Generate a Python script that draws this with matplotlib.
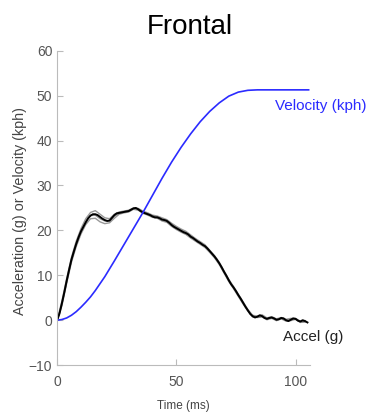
import numpy as np
import matplotlib
matplotlib.use("Agg")
import matplotlib.pyplot as plt

plt.rcParams['font.family'] = ['Liberation Sans', 'DejaVu Sans']

# Velocity (kph) at sampled times (ms)
vel_t = [0, 2, 4, 6, 8, 10, 12, 14, 16, 20, 24, 28, 32, 36, 40, 44, 48, 52, 56, 60, 64, 68, 72, 76, 80, 84, 90, 100, 105.5]
vel_v = [0, 0.15, 0.5, 1.1, 1.9, 2.9, 4.0, 5.2, 6.6, 9.7, 13.2, 16.8, 20.4, 24.0, 27.8, 31.6, 35.2, 38.5,
         41.5, 44.2, 46.5, 48.4, 49.9, 50.8, 51.2, 51.3, 51.3, 51.3, 51.3]

# Main acceleration trace (g), 1 ms spacing
accel_main = [0, 1.5, 3.8, 6.2, 8.8, 11.2, 13.5, 15.3, 17.0, 18.5, 19.8, 20.8, 21.8, 22.7, 23.3, 23.6,
              23.6, 23.4, 23.0, 22.6, 22.3, 22.1, 22.2, 22.8, 23.4, 23.8, 23.9, 24.0, 24.1, 24.2, 24.3,
              24.6, 24.9, 25.0, 24.7, 24.3, 24.0, 23.8, 23.6, 23.4, 23.1, 22.9, 22.9, 22.7, 22.4, 22.3,
              22.1, 21.7, 21.2, 20.8, 20.5, 20.2, 19.9, 19.6, 19.4, 19.1, 18.6, 18.3, 17.9, 17.5, 17.2,
              16.8, 16.5, 16.0, 15.4, 14.8, 14.2, 13.5, 12.7, 11.8, 10.8, 9.9, 8.9, 8.0, 7.3, 6.5, 5.6,
              4.8, 3.9, 3.0, 2.2, 1.4, 0.9, 0.6, 0.8, 1.1, 0.9, 0.5, 0.3, 0.5, 0.6, 0.4, 0.1, 0.2, 0.5,
              0.4, 0.0, -0.2, 0.1, 0.4, 0.3, -0.1, -0.3, 0.0, -0.2, -0.5]

# Other test traces (g), 2 ms spacing
accel_a = [0, 4.3, 9.3, 14.0, 17.6, 20.4, 22.6, 24.0, 24.4, 23.6, 22.8, 22.6, 23.6, 24.1, 24.3, 24.5,
           25.0, 24.9, 24.3, 23.9, 23.4, 23.2, 22.8, 22.4, 21.6, 20.9, 20.3, 19.8, 19.0, 18.2, 17.5,
           16.8, 15.6, 14.4, 12.9, 11.0, 9.1, 7.5, 5.8, 4.1, 2.4, 1.1, 0.9, 1.2, 0.5, 0.8, 0.3, 0.6,
           0.2, 0.4, 0.4, -0.2, -0.1]
accel_b = [0, 3.2, 8.2, 12.9, 16.4, 19.2, 21.3, 22.6, 22.7, 21.9, 21.5, 21.7, 22.7, 23.6, 23.9, 24.1,
           24.7, 24.5, 23.8, 23.4, 22.9, 22.7, 22.1, 21.8, 20.9, 20.2, 19.6, 19.1, 18.3, 17.6, 16.9,
           16.2, 15.1, 13.9, 12.4, 10.5, 8.6, 7.0, 5.3, 3.6, 2.0, 0.7, 0.6, 0.7, 0.1, 0.4, -0.1, 0.3,
           -0.2, -0.1, 0.2, -0.5, -0.4]
accel_c = [0, 3.6, 8.6, 13.4, 16.9, 19.7, 21.9, 23.3, 23.4, 22.6, 22.1, 22.1, 23.2, 23.8, 24.2, 24.4,
           24.9, 24.8, 24.1, 23.7, 23.2, 23.0, 22.5, 22.2, 21.3, 20.6, 20.0, 19.5, 18.7, 17.9, 17.2,
           16.5, 15.4, 14.1, 12.6, 10.7, 8.8, 7.2, 5.5, 3.8, 2.1, 0.9, 0.7, 0.9, 0.3, 0.6, 0.1, 0.4,
           0.0, 0.1, 0.3, -0.3, -0.3]

x_ticks = [0, 50, 100]
y_ticks = [-10, 0, 10, 20, 30, 40, 50, 60]

fig = plt.figure(figsize=(3.76, 4.13), dpi=100)
ax = fig.add_axes([0.152, 0.116, 0.672, 0.761])

for tr in (accel_a, accel_b, accel_c):
    t = np.arange(len(tr)) * 2.0
    ax.plot(t, tr, color='#444444', lw=1.0, alpha=0.55)
ax.plot(np.arange(len(accel_main)) * 1.0, accel_main, color='black', lw=1.4)
ax.plot(vel_t, vel_v, color='#2b2bff', lw=1.2)

ax.set_xlim(0, 106)
ax.set_ylim(-10, 60)
ax.set_xticks(x_ticks)
ax.set_yticks(y_ticks)
for s in ('top', 'right'):
    ax.spines[s].set_visible(False)
for s in ('left', 'bottom'):
    ax.spines[s].set_color('#bbbbbb')
ax.tick_params(direction='in', length=4, color='#bbbbbb', labelcolor='#555555', labelsize=10)
ax.tick_params(axis='x', pad=7)

ax.text(91.2, 47.6, 'Velocity (kph)', color='#2b2bff', fontsize=11, va='center', ha='left', clip_on=False)
ax.text(94.6, -3.8, 'Accel (g)', color='#222222', fontsize=11, va='center', ha='left', clip_on=False)

ax.set_xlabel('Time (ms)', fontsize=8.5, color='#444444')
ax.xaxis.set_label_coords(0.5, -0.11)
ax.set_ylabel('Acceleration (g) or Velocity (kph)', fontsize=10.3, color='#444444')
ax.yaxis.set_label_coords(-0.12, 0.49)
fig.text(0.505, 0.935, 'Frontal', fontsize=20, ha='center', va='center')

fig.savefig('out.png', dpi=100)
